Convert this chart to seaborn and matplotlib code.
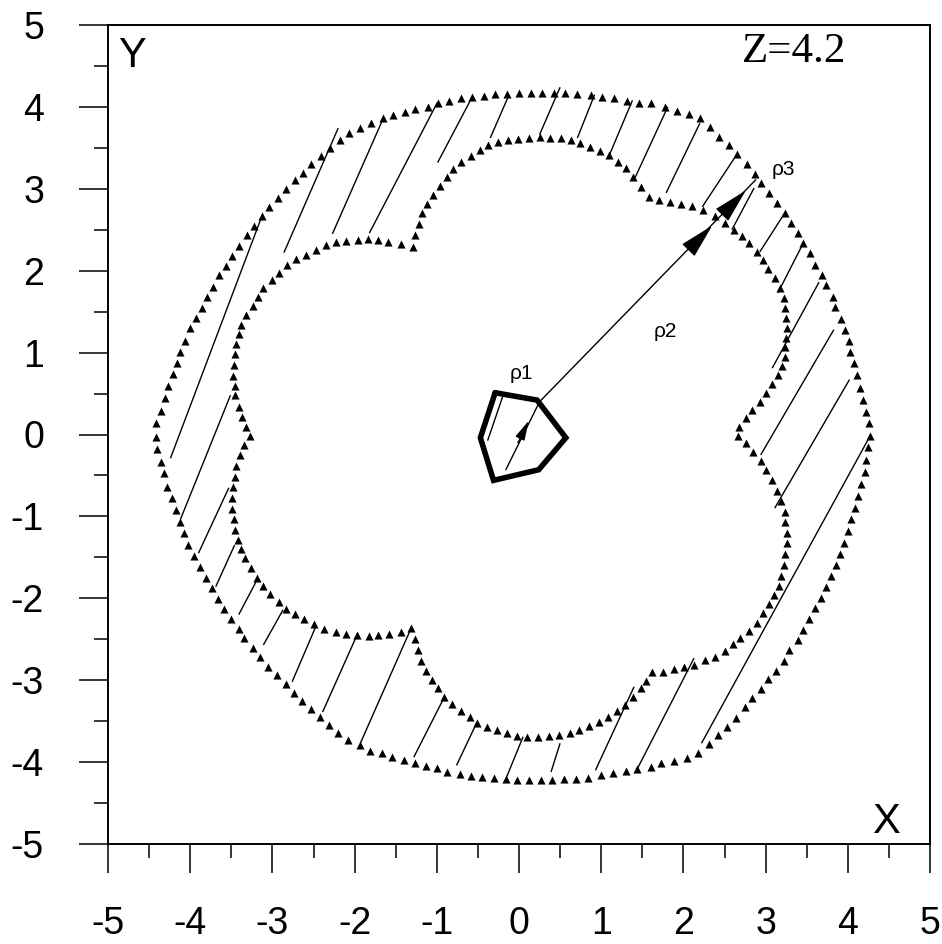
import matplotlib
matplotlib.use("Agg")
import matplotlib.pyplot as plt
from matplotlib.ticker import MultipleLocator, FixedLocator
import seaborn as sns
import pandas as pd
import numpy as np

# ---------------- data ----------------
outer_ring = [
    (1.60, 4.05), (1.46, 4.05), (1.31, 4.07), (1.16, 4.11), (1.01, 4.12),
    (0.87, 4.15), (0.71, 4.16), (0.56, 4.17), (0.43, 4.17), (0.28, 4.17),
    (0.14, 4.17), (0.00, 4.17), (-0.14, 4.16), (-0.29, 4.16), (-0.42, 4.13),
    (-0.57, 4.12), (-0.71, 4.11), (-0.85, 4.07), (-0.98, 4.05), (-1.11, 4.00),
    (-1.26, 3.97), (-1.39, 3.94), (-1.53, 3.90), (-1.66, 3.86), (-1.80, 3.80),
    (-1.94, 3.74), (-2.07, 3.68), (-2.18, 3.60), (-2.30, 3.50), (-2.41, 3.40),
    (-2.53, 3.30), (-2.63, 3.19), (-2.73, 3.11), (-2.84, 3.00), (-2.93, 2.89),
    (-3.04, 2.78), (-3.13, 2.67), (-3.22, 2.55), (-3.31, 2.44), (-3.41, 2.30),
    (-3.49, 2.18), (-3.56, 2.06), (-3.65, 1.95), (-3.72, 1.80), (-3.80, 1.68),
    (-3.86, 1.54), (-3.93, 1.42), (-4.00, 1.30), (-4.06, 1.14), (-4.12, 1.01),
    (-4.16, 0.87), (-4.21, 0.74), (-4.27, 0.59), (-4.31, 0.45), (-4.35, 0.29),
    (-4.41, 0.14), (-4.41, -0.03), (-4.40, -0.18), (-4.35, -0.34), (-4.32, -0.47),
    (-4.28, -0.64), (-4.22, -0.78), (-4.17, -0.92), (-4.12, -1.07), (-4.07, -1.20),
    (-4.03, -1.35), (-3.95, -1.48), (-3.88, -1.62), (-3.81, -1.75), (-3.74, -1.87),
    (-3.66, -2.01), (-3.59, -2.13), (-3.50, -2.25), (-3.41, -2.37), (-3.34, -2.48),
    (-3.24, -2.61), (-3.15, -2.72), (-3.05, -2.84), (-2.94, -2.94), (-2.84, -3.05),
    (-2.74, -3.16), (-2.64, -3.25), (-2.53, -3.35), (-2.42, -3.45), (-2.31, -3.55),
    (-2.20, -3.64), (-2.08, -3.73), (-1.94, -3.79), (-1.81, -3.86), (-1.67, -3.89),
    (-1.54, -3.94), (-1.40, -3.97), (-1.27, -4.01), (-1.13, -4.05), (-1.00, -4.07),
    (-0.87, -4.12), (-0.72, -4.15), (-0.59, -4.17), (-0.45, -4.18), (-0.31, -4.19),
    (-0.16, -4.21), (-0.03, -4.22), (0.12, -4.22), (0.27, -4.22), (0.40, -4.22),
    (0.55, -4.21), (0.69, -4.21), (0.84, -4.19), (1.00, -4.16), (1.14, -4.13),
    (1.30, -4.11), (1.43, -4.08), (1.60, -4.06), (1.73, -4.01), (1.88, -3.99),
    (2.04, -3.95), (2.18, -3.89), (2.31, -3.78), (2.42, -3.67), (2.53, -3.57),
    (2.64, -3.46), (2.75, -3.33), (2.84, -3.22), (2.94, -3.11), (3.03, -2.99),
    (3.13, -2.89), (3.22, -2.77), (3.29, -2.63), (3.40, -2.51), (3.46, -2.39),
    (3.53, -2.25), (3.60, -2.12), (3.67, -2.00), (3.74, -1.86), (3.80, -1.73),
    (3.86, -1.59), (3.91, -1.46), (3.95, -1.32), (4.00, -1.18), (4.04, -1.03),
    (4.09, -0.90), (4.12, -0.75), (4.16, -0.60), (4.21, -0.46), (4.22, -0.31),
    (4.24, -0.15), (4.27, -0.02), (4.26, 0.14), (4.22, 0.27), (4.19, 0.42),
    (4.15, 0.57), (4.11, 0.73), (4.07, 0.87), (4.03, 1.01), (4.01, 1.14),
    (3.96, 1.28), (3.92, 1.41), (3.85, 1.56), (3.82, 1.68), (3.74, 1.83),
    (3.69, 1.95), (3.60, 2.07), (3.54, 2.22), (3.46, 2.34), (3.39, 2.46),
    (3.31, 2.58), (3.23, 2.70), (3.14, 2.83), (3.04, 2.95), (2.94, 3.07),
    (2.87, 3.18), (2.77, 3.30), (2.65, 3.42), (2.56, 3.53), (2.43, 3.63),
    (2.32, 3.75), (2.20, 3.86), (2.07, 3.91), (1.92, 3.95), (1.78, 4.00),
]

inner_ring = [
    (-1.29, 2.29), (-1.27, 2.44), (-1.22, 2.57), (-1.18, 2.70), (-1.12, 2.81),
    (-1.05, 2.92), (-0.96, 3.03), (-0.88, 3.14), (-0.80, 3.24), (-0.70, 3.33),
    (-0.59, 3.40), (-0.48, 3.47), (-0.38, 3.53), (-0.26, 3.57), (-0.13, 3.60),
    (-0.01, 3.61), (0.12, 3.62), (0.25, 3.63), (0.38, 3.62), (0.51, 3.62),
    (0.63, 3.60), (0.74, 3.56), (0.86, 3.51), (0.98, 3.46), (1.09, 3.41),
    (1.20, 3.33), (1.30, 3.25), (1.39, 3.14), (1.49, 3.02), (1.58, 2.90),
    (1.70, 2.86), (1.84, 2.84), (1.97, 2.81), (2.11, 2.79), (2.24, 2.74),
    (2.39, 2.67), (2.51, 2.58), (2.62, 2.50), (2.71, 2.42), (2.80, 2.34),
    (2.89, 2.23), (2.97, 2.13), (3.03, 2.02), (3.11, 1.91), (3.18, 1.79),
    (3.22, 1.67), (3.23, 1.54), (3.25, 1.42), (3.26, 1.30), (3.25, 1.18),
    (3.24, 1.07), (3.23, 0.95), (3.20, 0.84), (3.15, 0.73), (3.08, 0.62),
    (3.00, 0.51), (2.93, 0.40), (2.84, 0.30), (2.76, 0.20), (2.68, 0.09),
    (2.66, -0.02), (2.76, -0.10), (2.85, -0.21), (2.95, -0.32), (3.01, -0.43),
    (3.08, -0.56), (3.14, -0.69), (3.19, -0.81), (3.23, -0.95), (3.24, -1.07),
    (3.26, -1.20), (3.26, -1.32), (3.24, -1.46), (3.22, -1.59), (3.19, -1.73),
    (3.16, -1.85), (3.10, -1.96), (3.04, -2.07), (2.97, -2.18), (2.89, -2.30),
    (2.80, -2.40), (2.69, -2.48), (2.60, -2.56), (2.50, -2.64), (2.38, -2.72),
    (2.26, -2.75), (2.13, -2.81), (2.01, -2.84), (1.89, -2.86), (1.75, -2.90),
    (1.62, -2.90), (1.55, -3.01), (1.48, -3.10), (1.39, -3.21), (1.29, -3.30),
    (1.19, -3.38), (1.08, -3.45), (0.97, -3.51), (0.85, -3.56), (0.73, -3.61),
    (0.62, -3.64), (0.49, -3.67), (0.36, -3.68), (0.23, -3.69), (0.10, -3.69),
    (-0.02, -3.68), (-0.14, -3.64), (-0.27, -3.61), (-0.39, -3.57), (-0.51, -3.52),
    (-0.60, -3.45), (-0.71, -3.38), (-0.81, -3.29), (-0.91, -3.21), (-0.98, -3.10),
    (-1.06, -3.00), (-1.13, -2.89), (-1.19, -2.77), (-1.23, -2.63), (-1.27, -2.50),
    (-1.31, -2.36), (-1.44, -2.41), (-1.58, -2.44), (-1.71, -2.45), (-1.83, -2.46),
    (-1.97, -2.45), (-2.10, -2.44), (-2.23, -2.41), (-2.37, -2.37), (-2.49, -2.31),
    (-2.61, -2.25), (-2.72, -2.19), (-2.83, -2.13), (-2.92, -2.05), (-3.03, -1.95),
    (-3.12, -1.85), (-3.19, -1.75), (-3.26, -1.63), (-3.33, -1.51), (-3.38, -1.40),
    (-3.42, -1.29), (-3.45, -1.17), (-3.47, -1.03), (-3.49, -0.91), (-3.49, -0.78),
    (-3.48, -0.64), (-3.46, -0.52), (-3.44, -0.38), (-3.39, -0.25), (-3.34, -0.13),
    (-3.27, -0.02), (-3.32, 0.09), (-3.37, 0.21), (-3.41, 0.34), (-3.45, 0.48),
    (-3.46, 0.59), (-3.48, 0.71), (-3.47, 0.85), (-3.46, 0.98), (-3.44, 1.10),
    (-3.41, 1.23), (-3.38, 1.34), (-3.32, 1.46), (-3.24, 1.57), (-3.18, 1.68),
    (-3.11, 1.79), (-3.01, 1.89), (-2.92, 1.97), (-2.82, 2.07), (-2.71, 2.14),
    (-2.59, 2.19), (-2.47, 2.25), (-2.35, 2.31), (-2.23, 2.35), (-2.10, 2.36),
    (-1.96, 2.37), (-1.84, 2.39), (-1.72, 2.37), (-1.59, 2.35), (-1.44, 2.33),
]

hatch_segments = [
    ((-2.20, 3.74), (-2.86, 2.22)), ((-1.66, 3.84), (-2.27, 2.45)),
    ((-0.99, 4.06), (-1.82, 2.46)), ((-0.57, 4.12), (-0.99, 3.32)),
    ((-0.12, 4.15), (-0.35, 3.62)), ((0.50, 4.24), (0.25, 3.66)),
    ((0.92, 4.15), (0.71, 3.62)), ((1.38, 4.08), (1.09, 3.39)),
    ((1.81, 4.00), (1.40, 3.11)), ((2.20, 3.80), (1.79, 2.95)),
    ((2.65, 3.42), (2.23, 2.78)), ((2.86, 3.01), (2.59, 2.50)),
    ((3.23, 2.70), (2.93, 2.23)), ((3.46, 2.34), (3.15, 1.73)),
    ((3.65, 1.86), (3.08, 0.81)), ((3.83, 1.28), (2.94, -0.25)),
    ((4.02, 0.67), (3.11, -0.90)), ((4.27, -0.02), (2.22, -3.77)),
    ((2.13, -2.73), (1.43, -4.10)), ((1.40, -3.08), (0.93, -4.10)),
    ((0.50, -3.77), (0.39, -4.12)), ((0.05, -3.69), (-0.15, -4.18)),
    ((-0.51, -3.51), (-0.76, -4.04)), ((-0.91, -3.21), (-1.28, -3.94)),
    ((-1.31, -2.36), (-1.93, -3.77)), ((-1.98, -2.47), (-2.39, -3.39)),
    ((-2.47, -2.34), (-2.76, -3.02)), ((-2.87, -2.14), (-3.11, -2.57)),
    ((-3.20, -1.80), (-3.41, -2.20)), ((-3.46, -1.35), (-3.69, -1.86)),
    ((-3.53, -0.65), (-3.90, -1.45)), ((-3.51, 0.48), (-4.12, -1.04)),
    ((-3.13, 2.66), (-4.24, -0.29)),
]

pentagon = [(-0.29, 0.51), (0.22, 0.42), (0.57, -0.04),
            (0.24, -0.43), (-0.31, -0.56), (-0.47, -0.04)]
pentagon_hatch = [(-0.20, 0.46), (-0.38, -0.07)]

rho_path = [(-0.16, -0.43), (0.25, 0.40), (2.88, 3.11)]
# arrow tip position, index of the path segment it sits on, head scale
arrow_tips = [((0.12, 0.17), 0, 12), ((2.35, 2.55), 1, 22), ((2.76, 2.98), 1, 22)]

rho_labels = [("ρ1", -0.12, 0.68), ("ρ2", 1.64, 1.19), ("ρ3", 3.07, 3.17)]
corner_labels = [("Y", -4.71, 4.49), ("X", 4.47, -4.87)]
z_label = ("Z=4.2", 3.35, 4.55)

ticks = [-5, -4, -3, -2, -1, 0, 1, 2, 3, 4, 5]
tick_labels = ["-5", "-4", "-3", "-2", "-1", "0", "1", "2", "3", "4", "5"]

# ---------------- drawing ----------------
sns.set_theme(style="white")
plt.rcParams["font.family"] = ["Liberation Sans", "DejaVu Sans"]
plt.rcParams["font.serif"] = ["Liberation Serif", "DejaVu Serif"]
plt.rcParams["axes.unicode_minus"] = False

fig = plt.figure(figsize=(9.42, 9.44), dpi=100)
fig.patch.set_facecolor("white")
ax = fig.add_axes([108 / 942, 100 / 944, 822 / 942, 819 / 944])
ax.set_facecolor("white")

outer_df = pd.DataFrame(outer_ring, columns=["x", "y"])
inner_df = pd.DataFrame(inner_ring, columns=["x", "y"])
for df in (outer_df, inner_df):
    sns.scatterplot(data=df, x="x", y="y", marker="^", s=34, color="black",
                    linewidth=0, legend=False, ax=ax, zorder=3)

for (x0, y0), (x1, y1) in hatch_segments:
    ax.plot([x0, x1], [y0, y1], color="black", lw=1.0, solid_capstyle="butt")

px = [p[0] for p in pentagon] + [pentagon[0][0]]
py = [p[1] for p in pentagon] + [pentagon[0][1]]
ax.plot(px, py, color="black", lw=4.0, solid_joinstyle="miter", zorder=4)
ax.plot([p[0] for p in pentagon_hatch], [p[1] for p in pentagon_hatch],
        color="black", lw=1.0)

ax.plot([p[0] for p in rho_path], [p[1] for p in rho_path], color="black", lw=1.0)
for tip, seg, scale in arrow_tips:
    a = np.array(rho_path[seg]); b = np.array(rho_path[seg + 1])
    d = (b - a) / np.linalg.norm(b - a)
    back = np.array(tip) - 0.3 * d
    ax.annotate("", xy=tip, xytext=tuple(back),
                arrowprops=dict(arrowstyle="-|>,head_length=1.0,head_width=0.25",
                                color="black", lw=1.0, shrinkA=0, shrinkB=0,
                                mutation_scale=scale))

for txt, x, y in rho_labels:
    ax.text(x, y, txt, fontsize=15, ha="left", va="baseline", color="black")
for txt, x, y in corner_labels:
    ax.text(x, y, txt, fontsize=30, ha="center", va="baseline", color="black")
ax.text(z_label[1], z_label[2], z_label[0], fontsize=31, ha="center", va="baseline",
        color="black", family="serif")

ax.set_xlim(-5, 5)
ax.set_ylim(-5, 5)
ax.xaxis.set_major_locator(FixedLocator(ticks))
ax.yaxis.set_major_locator(FixedLocator(ticks))
ax.set_xticklabels(tick_labels)
ax.set_yticklabels(tick_labels)
ax.xaxis.set_minor_locator(MultipleLocator(0.5))
ax.yaxis.set_minor_locator(MultipleLocator(0.5))
ax.set_xlabel("")
ax.set_ylabel("")
ax.grid(False)

for side in ["left", "right", "top", "bottom"]:
    ax.spines[side].set_visible(True)
    ax.spines[side].set_color("black")
    ax.spines[side].set_linewidth(1.4)

ax.tick_params(which="both", direction="out", bottom=True, left=True,
               top=False, right=False, color="black", width=1.1)
ax.tick_params(which="major", length=21, labelsize=27, labelcolor="black")
ax.tick_params(which="minor", length=10)
ax.tick_params(axis="x", which="major", pad=24)
ax.tick_params(axis="y", which="major", pad=25)

fig.savefig("out.png", dpi=100, facecolor="white")
